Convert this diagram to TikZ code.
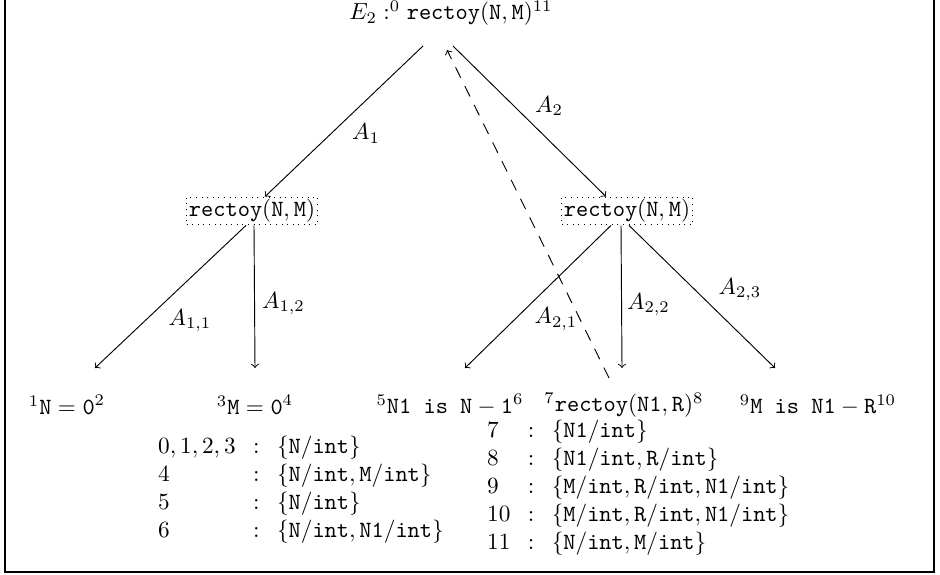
\documentclass[tikz,border=0pt]{standalone}
\begin{document}
\begin{tikzpicture}[x=0.43pt,y=-0.43pt,
  goal/.style={inner sep=2pt},
  callbox/.style={draw,dotted,inner sep=1pt},
  leaf/.style={inner sep=2pt},
  arr/.style={->},
  lab/.style={inner sep=0pt},
  tbl/.style={anchor=west,inner sep=0pt}]
\useasboundingbox (0,0) rectangle (940,575);
\draw[line width=0.8pt] (5,-5) -- (5,572) -- (934,572) -- (934,-5);

\node[goal] (root) at (451,13) {$E_2 :^0 \texttt{rectoy}(\texttt{N},\texttt{M})^{11}$};
\node[callbox] (L) at (252,211) {$\texttt{rectoy}(\texttt{N},\texttt{M})$};
\node[callbox] (R) at (627,211) {$\texttt{rectoy}(\texttt{N},\texttt{M})$};

\node[leaf] (l1) at (67,405) {${}^1\texttt{N} = \texttt{0}^2$};
\node[leaf] (l2) at (255,405) {${}^3\texttt{M} = \texttt{0}^4$};
\node[leaf] (l3) at (450,405) {${}^5\texttt{N1 is N} - \texttt{1}^6$};
\node[leaf] (l4) at (624,405) {${}^7\texttt{rectoy}(\texttt{N1},\texttt{R})^8$};
\node[leaf] (l5) at (818,405) {${}^9\texttt{M is N1} - \texttt{R}^{10}$};

\draw[arr] ([shift={(-28,33)}]root.center) -- ([shift={(13,0)}]L.north)
  node[lab,pos=0.582,shift={(35,0)}] {$A_1$};
\draw[arr] ([shift={(2,33)}]root.center) -- ([shift={(-21,0)}]R.north)
  node[lab,pos=0.399,shift={(35,0)}] {$A_2$};

\draw[arr] ([shift={(-6,0)}]L.south) -- ([shift={(28,-37)}]l1.center)
  node[lab,pos=0.669,shift={(45,0)}] {$A_{1,1}$};
\draw[arr] ([shift={(2,0)}]L.south) -- ([shift={(0,-37)}]l2.center)
  node[lab,pos=0.55,shift={(29,0)}] {$A_{1,2}$};

\draw[arr] ([shift={(-16,0)}]R.south) -- ([shift={(15,-37)}]l3.center)
  node[lab,pos=0.658,shift={(41,0)}] {$A_{2,1}$};
\draw[arr] ([shift={(-6,0)}]R.south) -- ([shift={(-2,-37)}]l4.center)
  node[lab,pos=0.555,shift={(27,0)}] {$A_{2,2}$};
\draw[arr] ([shift={(2,0)}]R.south) -- ([shift={(-43,-37)}]l5.center)
  node[lab,pos=0.452,shift={(45,0)}] {$A_{2,3}$};

\draw[arr,dash pattern=on 5pt off 4pt] ([shift={(-15,-27)}]l4.center) -- ([shift={(-4,37)}]root.center);

\node[tbl] (t1) at (149,490) {\setlength{\arraycolsep}{3.75pt}$\begin{array}{lcl}
0,1,2,3 & : & \{\texttt{N}/\texttt{int}\}\\
4 & : & \{\texttt{N}/\texttt{int},\texttt{M}/\texttt{int}\}\\
5 & : & \{\texttt{N}/\texttt{int}\}\\
6 & : & \{\texttt{N}/\texttt{int},\texttt{N1}/\texttt{int}\}
\end{array}$};
\node[tbl] (t2) at (478,488) {\setlength{\arraycolsep}{3.75pt}$\begin{array}{lcl}
7 & : & \{\texttt{N1}/\texttt{int}\}\\
8 & : & \{\texttt{N1}/\texttt{int},\texttt{R}/\texttt{int}\}\\
9 & : & \{\texttt{M}/\texttt{int},\texttt{R}/\texttt{int},\texttt{N1}/\texttt{int}\}\\
10 & : & \{\texttt{M}/\texttt{int},\texttt{R}/\texttt{int},\texttt{N1}/\texttt{int}\}\\
11 & : & \{\texttt{N}/\texttt{int},\texttt{M}/\texttt{int}\}
\end{array}$};
\end{tikzpicture}
\end{document}
